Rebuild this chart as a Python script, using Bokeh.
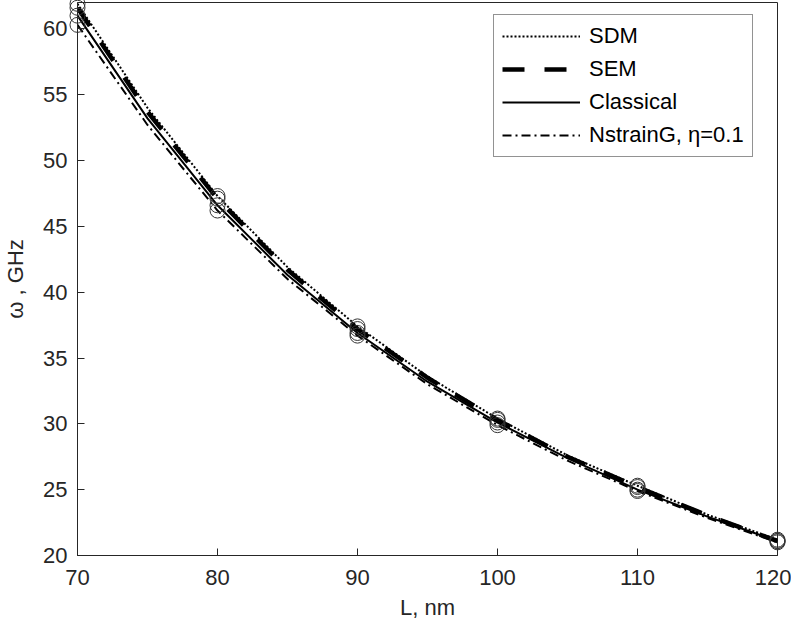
from bokeh.plotting import figure
from bokeh.models import Range1d, FixedTicker, Legend, LegendItem
from bokeh.embed import file_html
from bokeh.resources import INLINE

# ---- data ----
L_nm = [70, 75, 80, 85, 90, 95, 100, 105, 110, 115, 120]
sdm = [61.9, 54.0, 47.3, 41.9, 37.4, 33.6, 30.4, 27.6, 25.3, 23.1, 21.2]
sem = [61.6, 53.7, 47.1, 41.7, 37.2, 33.5, 30.3, 27.5, 25.2, 23.05, 21.1]
classical = [61.0, 53.2, 46.6, 41.3, 36.9, 33.2, 30.1, 27.4, 25.0, 22.95, 21.1]
nstrain = [60.3, 52.7, 46.2, 41.0, 36.7, 33.0, 29.9, 27.2, 24.9, 22.85, 21.0]
marker_L = [70, 80, 90, 100, 110, 120]
x_ticks = [70, 80, 90, 100, 110, 120]
y_ticks = [20, 25, 30, 35, 40, 45, 50, 55, 60]
series_names = ["SDM", "SEM", "Classical", "NstrainG, \u03b7=0.1"]

FONT = "Liberation Sans"
AX = "#262626"

p = figure(width=791, height=625, output_backend="svg", toolbar_location=None,
           x_range=Range1d(70, 120), y_range=Range1d(20, 62),
           min_border_left=72, min_border_right=14, min_border_top=2, min_border_bottom=70)
p.xgrid.visible = False
p.ygrid.visible = False
p.outline_line_color = AX
p.outline_line_width = 1
p.background_fill_color = "white"
p.border_fill_color = "white"

for ax in (p.xaxis[0], p.yaxis[0]):
    ax.axis_line_color = AX
    ax.major_tick_line_color = AX
    ax.major_tick_in = 7
    ax.major_tick_out = 0
    ax.minor_tick_line_color = None
    ax.major_label_text_font = FONT
    ax.major_label_text_font_size = "22px"
    ax.major_label_text_color = AX
    ax.axis_label_text_font = FONT
    ax.axis_label_text_font_size = "22px"
    ax.axis_label_text_font_style = "normal"
    ax.axis_label_text_color = AX

p.xaxis.ticker = FixedTicker(ticks=x_ticks)
p.yaxis.ticker = FixedTicker(ticks=y_ticks)
p.xaxis.axis_label = "L, nm"
p.yaxis.axis_label = "\u03c9 , GHz"
p.xaxis.major_label_standoff = 14
p.xaxis.axis_label_standoff = 7
p.yaxis.major_label_standoff = 10
p.yaxis.axis_label_standoff = 12

styles = [
    dict(line_width=2.0, line_dash="2 2"),
    dict(line_width=4.5, line_dash="22 20"),
    dict(line_width=2.0, line_dash="solid"),
    dict(line_width=2.0, line_dash="9 4 2 4"),
]
data = [sdm, sem, classical, nstrain]
items = []
for name, ys, st in zip(series_names, data, styles):
    r = p.line(L_nm, ys, line_color="black", **st)
    items.append(LegendItem(label=name, renderers=[r]))
    my = [ys[L_nm.index(v)] for v in marker_L]
    p.scatter(marker_L, my, marker="circle", size=15, fill_color=None,
              line_color="#333333", line_width=1, level="overlay")

legend = Legend(items=items, location=(416, 398))
legend.label_text_font = FONT
legend.label_text_font_size = "22px"
legend.label_text_color = "black"
legend.label_height = 24
legend.glyph_height = 24
legend.glyph_width = 78
legend.label_standoff = 9
legend.spacing = 7
legend.padding = 8
legend.margin = 0
legend.border_line_color = AX
legend.border_line_width = 1
legend.background_fill_color = "white"
legend.background_fill_alpha = 1
p.add_layout(legend, "center")

open("out.html", "w").write(file_html(p, INLINE))
